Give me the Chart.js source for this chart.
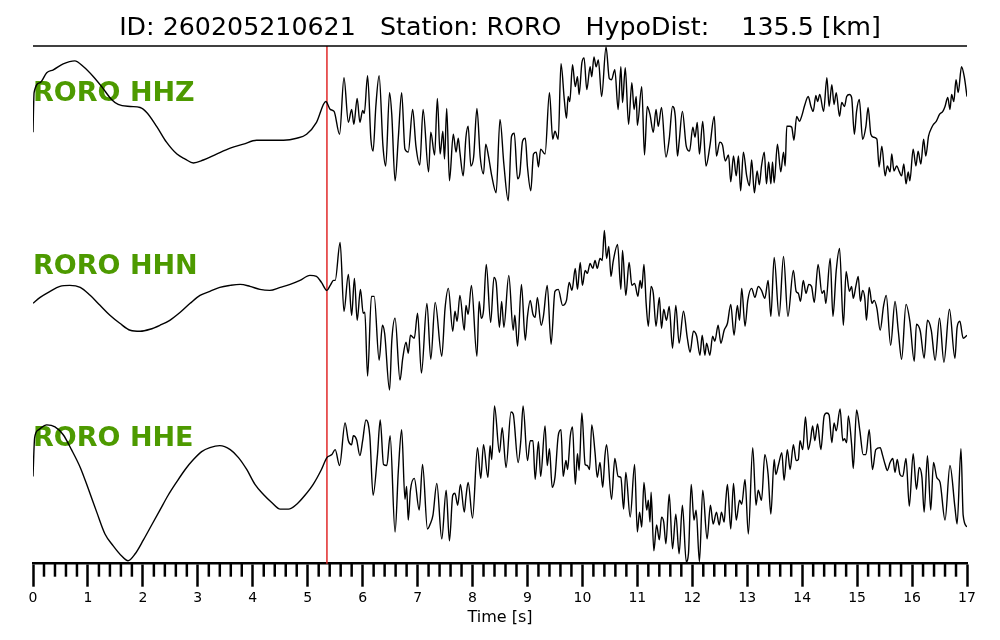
<!DOCTYPE html>
<html><head><meta charset="utf-8">
<script src="https://cdn.jsdelivr.net/npm/chart.js@4.4.1/dist/chart.umd.min.js"></script>
<style>html,body{margin:0;padding:0;background:#fff}#wrap{width:1000px;height:640px}</style>
</head><body><div id="wrap"><canvas id="c" width="1000" height="640"></canvas></div>
<script>
const titleText = 'ID: 260205210621   Station: RORO   HypoDist:    135.5 [km]';
const channels = ['RORO HHZ', 'RORO HHN', 'RORO HHE'];
const pickTime = 5.35;
const timeRange = [0, 17];

// [time s, amplitude]
const hhz = [[0,-8],[0.02,32],[0.13,42],[0.25,52],[0.37,55],[0.55,61],[0.76,64],[0.92,58],[1.10,48],[1.25,38],[1.43,25],[1.55,20],[1.77,18],[1.95,17],[2.07,12],[2.25,-2],[2.43,-18],[2.62,-30],[2.77,-35],[2.92,-39],[3.10,-36],[3.34,-30],[3.59,-24],[3.83,-20],[4.07,-16],[4.31,-16],[4.56,-16],[4.80,-14],[4.98,-10],[5.16,2],[5.33,23],[5.41,15],[5.48,13],[5.58,-10],
[5.66,47],[5.74,2],[5.80,15],[5.84,0],[5.90,26],[5.95,2],[6.00,14],[6.03,11],[6.09,49],[6.15,-15],[6.19,-27],[6.24,18],[6.30,49],[6.37,-22],[6.42,-42],[6.49,32],[6.53,10],[6.59,-57],[6.65,-13],[6.71,32],[6.77,-25],[6.83,-28],[6.91,15],[6.97,-22],[7.04,-41],[7.10,15],[7.20,-48],[7.24,-8],[7.31,-31],[7.36,26],[7.41,-30],[7.46,-7],[7.49,-35],[7.53,16],[7.58,-57],[7.65,-10],[7.70,-28],[7.74,-14],[7.77,-28],[7.83,-52],[7.88,-13],[7.92,-2],[7.97,-42],[8.02,-33],[8.08,16],[8.14,-33],[8.20,-50],[8.24,-20],[8.29,-32],[8.35,-52],[8.43,-69],[8.50,5],[8.57,-40],[8.65,-77],[8.71,-12],[8.76,-9],[8.82,-55],[8.86,-50],[8.91,-17],[8.96,-14],[9.00,-43],[9.06,-67],[9.11,-30],[9.16,-28],[9.20,-43],[9.24,-25],[9.32,-30],[9.40,32],[9.46,-15],[9.50,-7],[9.56,-15],[9.61,61],[9.67,25],[9.71,6],[9.74,28],[9.77,23],[9.82,60],[9.87,38],[9.91,48],[9.94,30],[9.99,62],[10.03,67],[10.08,35],[10.14,58],[10.17,48],[10.21,68],[10.25,58],[10.29,65],[10.35,28],[10.43,78],[10.49,46],[10.53,45],[10.59,55],[10.65,15],[10.70,58],[10.73,22],[10.78,57],[10.84,0],[10.90,42],[10.94,15],[10.98,28],[11.00,-1],[11.08,38],[11.13,-31],[11.18,18],
[11.23,10],[11.29,-8],[11.34,15],[11.38,-2],[11.44,17],[11.52,-33],[11.58,-15],[11.64,18],[11.69,8],[11.73,-32],[11.76,-18],[11.82,13],[11.89,-22],[11.95,-27],[12.01,-3],[12.05,-13],[12.09,2],[12.13,-30],[12.19,3],[12.25,-42],[12.32,-22],[12.40,8],[12.44,-32],[12.50,-18],[12.55,-21],[12.60,-37],[12.66,-31],[12.70,-58],[12.75,-32],[12.80,-52],[12.84,-32],[12.88,-67],[12.93,-28],[12.99,-52],[13.04,-62],[13.08,-36],[13.13,-69],[13.18,-47],[13.22,-61],[13.26,-42],[13.31,-28],[13.35,-60],[13.39,-38],[13.43,-60],[13.46,-38],[13.49,-59],[13.55,-20],[13.61,-48],[13.66,-28],[13.69,-42],[13.72,-2],[13.77,-2],[13.81,-3],[13.85,-16],[13.90,8],[13.95,3],[13.99,8],[14.05,20],[14.11,28],[14.16,18],[14.20,13],[14.25,29],[14.28,23],[14.32,30],[14.39,13],[14.45,47],[14.49,18],[14.54,40],[14.58,20],[14.62,32],[14.68,8],[14.72,22],[14.77,18],[14.81,28],[14.86,30],[14.90,27],[14.95,-10],[14.99,13],[15.04,25],[15.10,-15],[15.16,-2],[15.20,17],[15.25,-10],[15.30,-13],[15.36,-15],[15.40,-43],[15.45,-22],[15.51,-52],[15.55,-42],[15.60,-48],[15.63,-30],[15.67,-47],[15.72,-42],[15.77,-48],[15.81,-52],[15.85,-40],[15.89,-60],[15.93,-48],[15.96,-57],[16.02,-25],[16.07,-42],[16.11,-27],[16.16,-40],[16.21,-15],[16.25,-32],[16.30,-12],[16.36,-3],[16.39,0],[16.44,3],[16.50,10],[16.56,13],[16.60,18],[16.65,27],[16.69,15],[16.72,30],[16.76,23],[16.80,45],[16.84,32],[16.90,58],[16.95,48],[17.00,28]];

const hhn = [[0,7],[0.13,13],[0.31,19],[0.49,24],[0.67,25],[0.86,23],[1.04,15],[1.22,5],[1.40,-5],[1.58,-13],[1.77,-20],[1.95,-21],[2.13,-19],[2.31,-15],[2.49,-10],[2.68,-2],[2.86,7],[3.04,15],[3.22,19],[3.40,23],[3.59,25],[3.77,26],[3.95,24],[4.13,21],[4.31,20],[4.50,23],[4.68,26],[4.86,30],[5.04,35],[5.16,34],[5.25,28],[5.35,20],[5.41,25],[5.47,30],[5.50,30],
[5.59,68],[5.66,-1],[5.74,36],[5.80,-5],[5.85,32],[5.90,-10],[5.96,21],[6.01,-3],[6.04,-2],[6.09,-66],[6.16,14],[6.21,14],[6.30,-50],[6.36,-15],[6.40,-23],[6.49,-80],[6.53,-31],[6.59,-8],[6.68,-70],[6.73,-48],[6.79,-32],[6.83,-43],[6.87,-25],[6.94,-28],[7.00,-3],[7.07,-63],[7.17,7],[7.24,-49],[7.32,8],[7.44,-46],[7.50,2],[7.56,22],[7.64,-21],[7.68,-1],[7.72,-11],[7.77,15],[7.85,-20],[7.88,5],[7.92,-4],[7.98,25],[8.08,-46],[8.12,9],[8.16,-8],[8.20,0],[8.25,46],[8.33,-12],[8.39,33],[8.43,28],[8.49,-17],[8.53,9],[8.57,-17],[8.66,35],[8.74,-20],[8.77,-5],[8.82,-36],[8.89,26],[8.96,-30],[9.00,-6],[9.05,10],[9.10,-4],[9.14,-7],[9.18,13],[9.25,-15],[9.29,-6],[9.36,25],[9.43,-34],[9.50,19],[9.56,21],[9.64,5],[9.71,10],[9.76,28],[9.81,20],[9.87,42],[9.91,21],[9.96,48],[10.00,25],[10.05,40],[10.09,37],[10.14,47],[10.19,42],[10.23,50],[10.27,42],[10.32,52],[10.36,50],[10.40,80],[10.44,52],[10.48,64],[10.52,34],[10.56,49],[10.64,66],[10.70,21],[10.73,60],[10.79,15],[10.85,48],[10.90,25],[10.95,27],[11.01,14],[11.05,30],[11.08,22],[11.12,46],[11.16,7],[11.20,-16],
[11.25,24],[11.29,17],[11.34,-16],[11.40,13],[11.44,-18],[11.48,1],[11.53,-10],[11.58,4],[11.64,-38],[11.70,5],[11.76,-33],[11.84,-1],[11.91,-28],[11.96,-42],[12.02,-21],[12.08,-26],[12.14,-45],[12.18,-25],[12.23,-45],[12.26,-33],[12.32,-45],[12.37,-26],[12.41,-31],[12.47,-15],[12.52,-33],[12.58,-20],[12.64,-13],[12.70,6],[12.76,-25],[12.82,5],[12.86,-10],[12.90,22],[12.96,-16],[13.01,10],[13.08,22],[13.14,13],[13.20,24],[13.26,20],[13.32,12],[13.38,30],[13.43,-6],[13.49,53],[13.58,-6],[13.66,54],[13.74,-6],[13.84,40],[13.89,19],[13.93,17],[13.97,9],[14.02,30],[14.07,17],[14.12,26],[14.17,24],[14.22,8],[14.29,46],[14.36,17],[14.40,20],[14.43,7],[14.51,52],[14.56,-6],[14.62,40],[14.68,62],[14.75,-15],[14.80,39],[14.86,19],[14.90,24],[14.93,12],[14.98,25],[15.02,34],[15.06,9],[15.10,20],[15.14,12],[15.17,-10],[15.22,23],[15.27,7],[15.31,10],[15.36,2],[15.42,-20],[15.48,4],[15.53,15],[15.61,-35],[15.69,9],[15.75,-21],[15.81,-49],[15.89,6],[15.96,-11],[16.04,-51],[16.08,-14],[16.15,-21],[16.22,-48],[16.28,-10],[16.35,-20],[16.42,-50],[16.50,-8],[16.58,-52],[16.68,1],[16.78,-48],[16.82,-17],[16.87,-11],[16.93,-28],[17.00,-25]];

const hhe = [[0,8],[0.03,47],[0.10,55],[0.25,60],[0.40,58],[0.55,50],[0.70,35],[0.86,17],[1.01,-5],[1.16,-28],[1.31,-50],[1.46,-62],[1.61,-72],[1.73,-77],[1.86,-70],[2.01,-56],[2.16,-41],[2.31,-26],[2.46,-11],[2.61,2],[2.77,15],[2.92,25],[3.07,33],[3.22,37],[3.40,39],[3.59,35],[3.74,27],[3.89,15],[4.04,0],[4.19,-10],[4.34,-18],[4.50,-25],[4.65,-25],[4.80,-20],[4.95,-11],[5.10,0],[5.25,15],[5.35,27],[5.44,30],[5.50,35],[5.58,19],
[5.68,62],[5.74,44],[5.80,40],[5.83,49],[5.89,45],[5.95,29],[6.00,44],[6.06,65],[6.13,49],[6.19,-11],[6.27,30],[6.32,65],[6.38,20],[6.44,19],[6.50,49],[6.59,-48],[6.65,14],[6.71,55],[6.77,-15],[6.80,-2],[6.83,-36],[6.87,-6],[6.94,6],[7.03,-26],[7.09,20],[7.18,-45],[7.23,-40],[7.28,-31],[7.35,1],[7.44,-55],[7.52,-6],[7.58,-57],[7.64,-11],[7.68,-9],[7.73,-21],[7.78,0],[7.85,-28],[7.88,-13],[7.92,2],[8.00,-34],[8.09,37],[8.15,6],[8.20,40],[8.28,7],[8.32,39],[8.35,25],[8.40,79],[8.49,32],[8.54,57],[8.61,17],[8.70,73],[8.74,71],[8.83,22],[8.88,45],[8.92,79],[9.00,24],[9.05,44],[9.10,44],[9.14,5],[9.20,43],[9.24,8],[9.32,59],[9.36,19],[9.40,36],[9.45,-3],[9.50,7],[9.56,49],[9.61,55],[9.65,8],[9.70,24],[9.73,15],[9.78,49],[9.82,58],[9.87,0],[9.91,31],[9.94,14],[9.99,72],[10.05,20],[10.09,19],[10.13,15],[10.17,60],[10.23,32],[10.27,7],[10.32,22],[10.37,-3],[10.41,29],[10.44,40],[10.53,-15],[10.59,26],[10.65,8],[10.70,7],[10.75,-25],[10.79,12],[10.87,-33],[10.95,20],[11.00,-48],[11.04,-28],[11.08,-43],[11.12,2],[11.17,-26],[11.20,-16],[11.23,-38],[11.25,-8],
[11.30,-67],[11.35,-41],[11.40,-56],[11.44,-33],[11.48,-38],[11.52,-60],[11.58,-10],[11.64,-65],[11.70,-30],[11.76,-70],[11.82,-21],[11.89,-78],[11.93,-70],[11.98,0],[12.03,-36],[12.07,-26],[12.13,-78],[12.19,-6],[12.27,-55],[12.33,-21],[12.38,-40],[12.44,-28],[12.49,-41],[12.53,-28],[12.58,-38],[12.61,-16],[12.64,0],[12.70,-45],[12.75,1],[12.80,-36],[12.86,-16],[12.90,-20],[12.96,5],[13.02,-50],[13.10,37],[13.16,-21],[13.20,-6],[13.26,-16],[13.32,30],[13.38,10],[13.43,-30],[13.49,25],[13.52,10],[13.57,20],[13.63,32],[13.67,4],[13.73,35],[13.78,15],[13.84,40],[13.89,24],[13.93,25],[13.96,44],[14.01,35],[14.06,68],[14.11,35],[14.15,44],[14.19,59],[14.23,44],[14.28,61],[14.34,35],[14.40,69],[14.45,72],[14.49,70],[14.54,42],[14.58,62],[14.62,54],[14.69,76],[14.74,44],[14.77,46],[14.81,42],[14.84,69],[14.90,40],[14.93,16],[14.99,75],[15.05,54],[15.11,30],[15.16,30],[15.22,55],[15.28,15],[15.34,35],[15.42,37],[15.46,30],[15.51,20],[15.55,14],[15.60,22],[15.65,26],[15.69,12],[15.73,25],[15.78,10],[15.83,8],[15.89,26],[15.95,-22],[16.02,31],[16.08,-5],[16.13,17],[16.18,7],[16.22,-28],[16.28,29],[16.34,-26],[16.39,22],[16.45,7],[16.51,2],[16.60,-36],[16.69,19],[16.78,-23],[16.82,-40],[16.89,36],[16.93,-31],[17.00,-43]];

const traces = [hhz, hhn, hhe];
const axisIds = ['yZ', 'yN', 'yE'];
const axisRanges = [[-95, 79], [-81, 92], [-80, 94]];

const FONT = '"DejaVu Sans", "Liberation Sans", sans-serif';
const isInt = v => Math.abs(v - Math.round(v)) < 1e-6;

const decor = {
  id: 'decor',
  beforeDatasetsDraw(chart) {
    const {ctx, chartArea} = chart;
    const xs = chart.scales.x;
    ctx.save();
    ctx.font = 'bold 27px ' + FONT;
    ctx.fillStyle = '#4d9a00';
    ctx.textAlign = 'left';
    ctx.textBaseline = 'alphabetic';
    axisIds.forEach((id, i) => {
      const s = chart.scales[id];
      ctx.fillText(channels[i], chartArea.left, s.top + 0.32 * (s.bottom - s.top));
    });
    const px = xs.getPixelForValue(pickTime);
    ctx.strokeStyle = 'rgb(225,40,40)';
    ctx.lineWidth = 1.5;
    ctx.beginPath();
    ctx.moveTo(px, chartArea.top);
    ctx.lineTo(px, chartArea.bottom);
    ctx.stroke();
    ctx.restore();
  },
  afterDraw(chart) {
    const {ctx, chartArea} = chart;
    const xs = chart.scales.x;
    ctx.save();
    ctx.strokeStyle = '#000';
    ctx.lineWidth = 1.6;
    ctx.beginPath();
    ctx.moveTo(chartArea.left, chartArea.top);
    ctx.lineTo(chartArea.right, chartArea.top);
    ctx.stroke();
    ctx.lineWidth = 2.5;
    ctx.lineCap = 'butt';
    xs.ticks.forEach(t => {
      if (isInt(t.value)) return;
      const px = xs.getPixelForValue(t.value);
      ctx.beginPath();
      ctx.moveTo(px, chartArea.bottom);
      ctx.lineTo(px, chartArea.bottom + 13);
      ctx.stroke();
    });
    ctx.restore();
  }
};

const datasets = traces.map((tr, i) => ({
  label: channels[i],
  data: tr.map(p => ({x: p[0], y: p[1]})),
  yAxisID: axisIds[i],
  borderColor: '#000',
  borderWidth: 1.4,
  pointRadius: 0,
  fill: false,
  cubicInterpolationMode: 'monotone'
}));

const scales = {
  x: {
    type: 'linear', position: 'bottom', min: timeRange[0], max: timeRange[1],
    border: {display: true, color: '#000', width: 2.5},
    grid: {display: true, drawOnChartArea: false, drawTicks: true, tickLength: 23, tickWidth: 2.5,
      tickColor: c => (c.tick && isInt(c.tick.value)) ? '#000' : 'rgba(0,0,0,0)'},
    ticks: {stepSize: 0.2, autoSkip: false, maxRotation: 0, padding: 3, color: '#000',
      font: {family: FONT, size: 14},
      callback: v => isInt(v) ? String(Math.round(v)) : ''},
    title: {display: true, text: 'Time [s]', color: '#000', font: {family: FONT, size: 16, lineHeight: 1.0},
      padding: {top: 0, bottom: 4}}
  }
};
axisIds.forEach((id, i) => {
  scales[id] = {type: 'linear', display: false, position: 'left', stack: 'traces', stackWeight: 1,
    weight: 3 - i, min: axisRanges[i][0], max: axisRanges[i][1]};
});

new Chart(document.getElementById('c'), {
  type: 'line',
  data: {datasets},
  options: {
    responsive: false,
    animation: false,
    devicePixelRatio: 1,
    layout: {padding: {left: 33, right: 33, top: 0, bottom: 10.5}},
    plugins: {
      legend: {display: false},
      tooltip: {enabled: false},
      title: {display: true, text: titleText, color: '#000',
        font: {family: FONT, size: 25.3, weight: 'normal', lineHeight: 1.2},
        padding: {top: 13, bottom: 2.6}}
    },
    scales
  },
  plugins: [decor]
});
</script>
</body></html>
